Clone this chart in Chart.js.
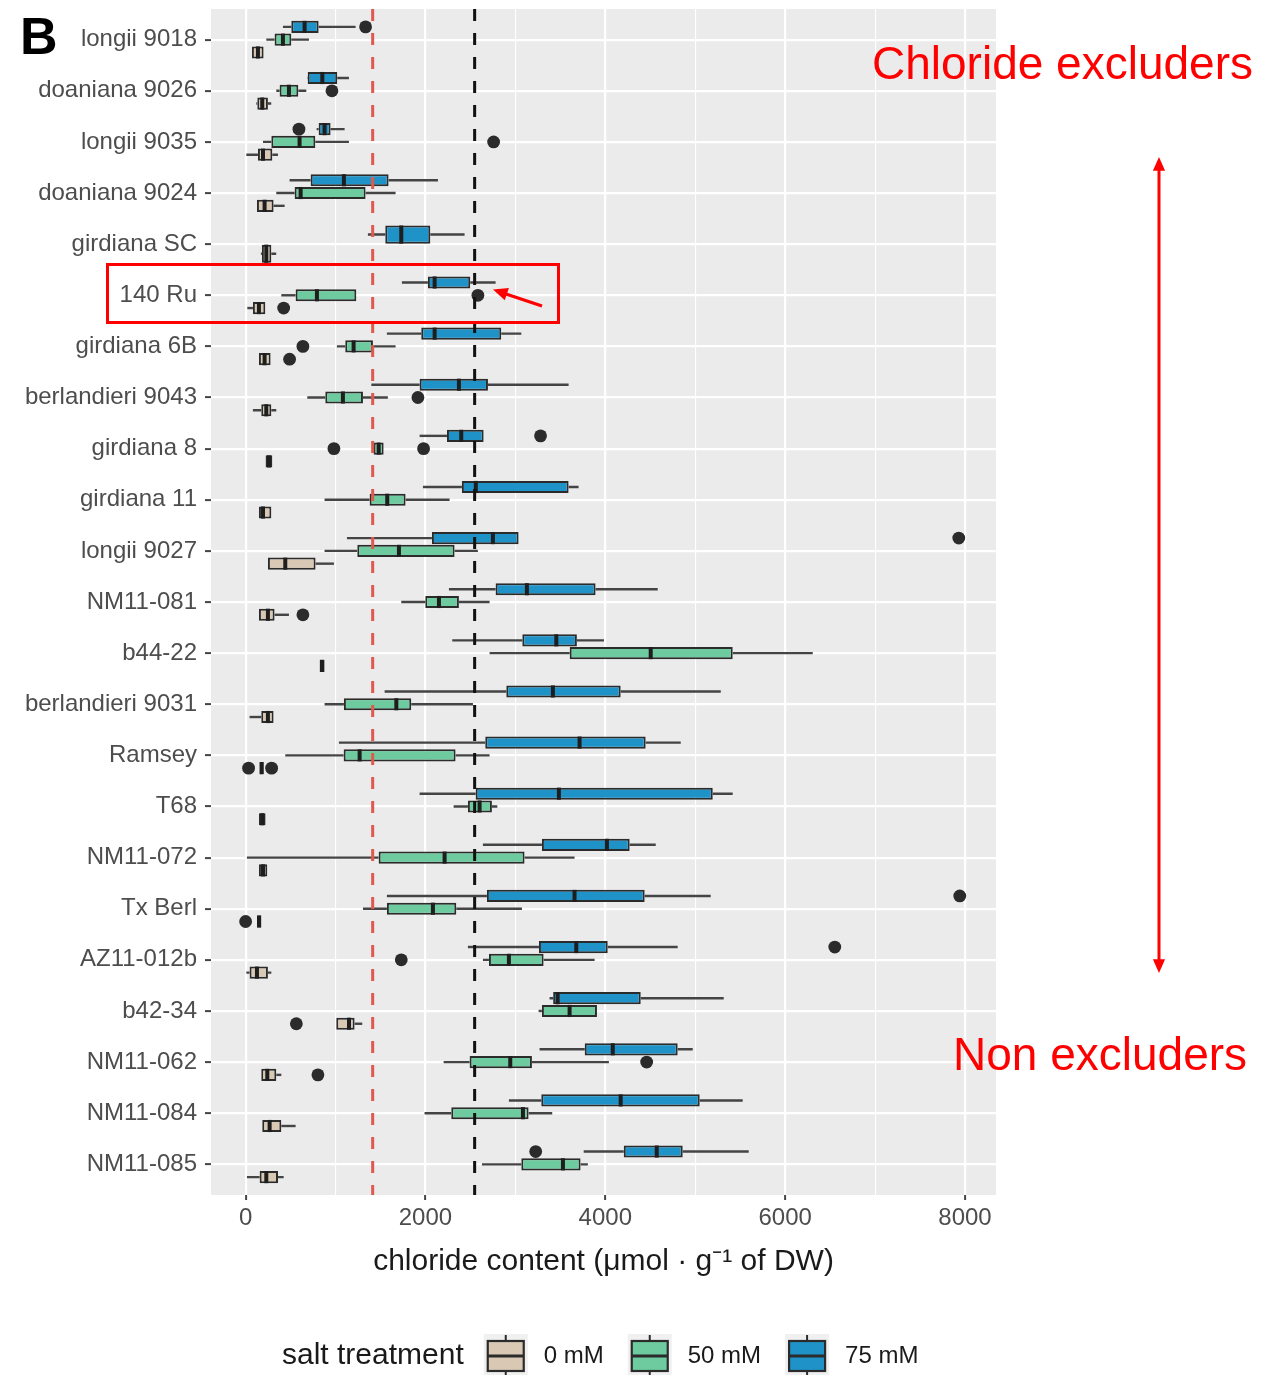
<!DOCTYPE html>
<html>
<head>
<meta charset="utf-8">
<script src="https://cdn.jsdelivr.net/npm/chart.js@4.4.1/dist/chart.umd.min.js"></script>
<style>
  html, body { margin: 0; padding: 0; background: #fff; }
  canvas { display: block; }
</style>
</head>
<body>
<canvas id="chart" width="1284" height="1375"></canvas>
<script>
// genotypes, top to bottom
const categories = ['longii 9018', 'doaniana 9026', 'longii 9035', 'doaniana 9024', 'girdiana SC',
  '140 Ru', 'girdiana 6B', 'berlandieri 9043', 'girdiana 8', 'girdiana 11', 'longii 9027',
  'NM11-081', 'b44-22', 'berlandieri 9031', 'Ramsey', 'T68', 'NM11-072', 'Tx Berl',
  'AZ11-012b', 'b42-34', 'NM11-062', 'NM11-084', 'NM11-085'];

// 0 mM : whisker low, Q1, median, Q3, whisker high, outliers
const min0 = [70, 119, 8, 126, 170, 19, 148, 81, 222, 148, 248, 148, 823, 44, 156, 148, 148, 126, 8, 1008, 174, 185, 15];
const q1_0 = [70, 130, 137, 126, 181, 81, 148, 174, 222, 148, 248, 148, 823, 174, 156, 148, 148, 126, 44, 1008, 174, 185, 156];
const med0 = [137, 185, 193, 211, 230, 148, 211, 230, 260, 193, 441, 248, 850, 248, 178, 185, 193, 150, 126, 1150, 241, 267, 230];
const q3_0 = [200, 248, 297, 311, 286, 219, 278, 286, 297, 286, 778, 322, 878, 311, 200, 222, 241, 174, 248, 1212, 341, 397, 360];
const max0 = [200, 285, 360, 434, 340, 219, 278, 341, 297, 286, 982, 482, 878, 311, 200, 222, 241, 174, 286, 1297, 397, 556, 423];
const out0 = [[], [], [], [], [], [423], [489], [], [], [], [], [637], [], [], [33, 289], [], [], [0], [], [564], [804], [], []];

// 50 mM
const min50 = [230, 341, 193, 341, null, 397, 1015, 686, 1423, 878, 878, 1731, 2713, 878, 441, 2313, 15, 1305, 2639, 3258, 2202, 1990, 2628];
const q1_50 = [322, 378, 286, 545, null, 556, 1108, 886, 1423, 1379, 1242, 1998, 3604, 1093, 1090, 2472, 1479, 1571, 2706, 3295, 2491, 2287, 3066];
const med50 = [415, 482, 600, 612, null, 793, 1201, 1082, 1480, 1575, 1705, 2150, 4505, 1676, 1268, 2602, 2213, 2083, 2928, 3603, 2943, 3084, 3529];
const q3_50 = [508, 586, 775, 1334, null, 1231, 1416, 1305, 1535, 1779, 2324, 2372, 5417, 1842, 2335, 2739, 3102, 2343, 3314, 3907, 3184, 3147, 3725];
const max50 = [704, 675, 1149, 1668, null, 1231, 1668, 1582, 1535, 2268, 2583, 2713, 6307, 2528, 2713, 2799, 3658, 3073, 3881, 3907, 4040, 3410, 3806];
const out50 = [[], [960], [2758], [], [], [2583], [637], [1916], [982, 1979], [], [], [], [], [], [], [], [], [], [1731], [], [4460], [], []];

// 75 mM
const min75 = [415, 686, 790, 489, 1360, 1738, 1571, 1398, 1935, 1972, 1127, 2261, 2298, 1546, 1038, 1935, 2639, 1571, 2472, 3380, 3269, 2928, 3760];
const q1_75 = [508, 690, 812, 723, 1553, 2027, 1953, 1935, 2239, 2405, 2072, 2780, 3077, 2899, 2665, 2558, 3295, 2683, 3262, 3420, 3771, 3288, 4205];
const med75 = [656, 853, 878, 1093, 1731, 2102, 2102, 2372, 2398, 2560, 2750, 3128, 3455, 3417, 3714, 3484, 4018, 3658, 3677, 3470, 4083, 4171, 4572];
const q3_75 = [812, 1019, 945, 1590, 2054, 2498, 2843, 2695, 2647, 3592, 3036, 3892, 3684, 4171, 4449, 5195, 4271, 4438, 4027, 4394, 4805, 5050, 4861];
const max75 = [1223, 1149, 1101, 2139, 2435, 2780, 3066, 3592, 2647, 3703, 3036, 4583, 3985, 5284, 4839, 5417, 4561, 5172, 4805, 5317, 4972, 5528, 5595];
const out75 = [[1334], [], [593], [], [], [], [], [], [3280], [], [7931], [], [], [], [], [], [], [7942], [6552], [], [], [], [3226]];

// dashed thresholds
const refValues = [1413, 2547];
const refColors = ['#dd5a4c', '#111111'];

// x grid every 1000, labels every 2000
const xGrid = [0, 1000, 2000, 3000, 4000, 5000, 6000, 7000, 8000];
const xTicks = [0, 2000, 4000, 6000, 8000];

const FONT = '"Liberation Sans", Arial, sans-serif';
const PANEL = '#ebebeb';
const EDGE = '#2b2b2b';

// top to bottom inside each genotype
const groups = [
  { label: '75 mM', color: '#1f93c8', min: min75, q1: q1_75, med: med75, q3: q3_75, max: max75, out: out75 },
  { label: '50 mM', color: '#6dcb9f', min: min50, q1: q1_50, med: med50, q3: q3_50, max: max50, out: out50 },
  { label: '0 mM', color: '#d8c8b4', min: min0, q1: q1_0, med: med0, q3: q3_0, max: max0, out: out0 }
];

function arrowHead(ctx, x, y, angle, size) {
  ctx.beginPath();
  ctx.moveTo(x, y);
  ctx.lineTo(x - size * Math.cos(angle - 0.42), y - size * Math.sin(angle - 0.42));
  ctx.lineTo(x - size * Math.cos(angle + 0.42), y - size * Math.sin(angle + 0.42));
  ctx.closePath();
  ctx.fill();
}

const boxplotPlugin = {
  id: 'boxplotExtras',
  beforeDraw(chart) {
    const { ctx, chartArea: a } = chart;
    ctx.save();
    ctx.fillStyle = '#ffffff';
    ctx.fillRect(0, 0, chart.width, chart.height);
    ctx.fillStyle = PANEL;
    ctx.fillRect(a.left, a.top, a.right - a.left, a.bottom - a.top);
    ctx.restore();
  },
  beforeDatasetsDraw(chart) {
    // whiskers under the boxes
    const ctx = chart.ctx;
    const xs = chart.scales.x;
    ctx.save();
    ctx.strokeStyle = '#444';
    ctx.lineWidth = 2.4;
    groups.forEach((g, d) => {
      chart.getDatasetMeta(d).data.forEach((el, i) => {
        if (g.q1[i] == null) return;
        ctx.beginPath();
        ctx.moveTo(xs.getPixelForValue(g.min[i]), el.y);
        ctx.lineTo(xs.getPixelForValue(g.q1[i]), el.y);
        ctx.moveTo(xs.getPixelForValue(g.q3[i]), el.y);
        ctx.lineTo(xs.getPixelForValue(g.max[i]), el.y);
        ctx.stroke();
      });
    });
    ctx.restore();
  },
  afterDatasetsDraw(chart) {
    const ctx = chart.ctx;
    const xs = chart.scales.x;
    const a = chart.chartArea;
    ctx.save();
    groups.forEach((g, d) => {
      chart.getDatasetMeta(d).data.forEach((el, i) => {
        if (g.q1[i] == null) return;
        // median
        const mx = xs.getPixelForValue(g.med[i]);
        ctx.strokeStyle = '#1e1e1e';
        ctx.lineWidth = 4;
        ctx.beginPath();
        ctx.moveTo(mx, el.y - el.height / 2);
        ctx.lineTo(mx, el.y + el.height / 2);
        ctx.stroke();
        // outliers
        ctx.fillStyle = '#2b2b2b';
        g.out[i].forEach(v => {
          ctx.beginPath();
          ctx.arc(xs.getPixelForValue(v), el.y, 6.4, 0, Math.PI * 2);
          ctx.fill();
        });
      });
    });
    // dashed threshold lines
    ctx.lineWidth = 3;
    ctx.setLineDash([12, 12]);
    refValues.forEach((v, k) => {
      const px = xs.getPixelForValue(v);
      ctx.strokeStyle = refColors[k];
      ctx.beginPath();
      ctx.moveTo(px, a.top);
      ctx.lineTo(px, a.bottom);
      ctx.stroke();
    });
    ctx.restore();
  },
  afterDraw(chart) {
    const ctx = chart.ctx;
    ctx.save();

    // legend
    const ly = 1356;
    ctx.textBaseline = 'middle';
    ctx.textAlign = 'left';
    ctx.fillStyle = '#1a1a1a';
    ctx.font = '30px ' + FONT;
    let lx = 282;
    ctx.fillText('salt treatment', lx, ly);
    lx += ctx.measureText('salt treatment').width + 20;
    ctx.font = '24px ' + FONT;
    groups.slice().reverse().forEach(g => {
      const k = 44;
      ctx.fillStyle = '#f0f0f0';
      ctx.fillRect(lx, ly - k / 2, k, k);
      ctx.strokeStyle = EDGE;
      ctx.lineWidth = 2;
      ctx.beginPath();
      ctx.moveTo(lx + k / 2, ly - k / 2 + 1);
      ctx.lineTo(lx + k / 2, ly + k / 2 - 1);
      ctx.stroke();
      ctx.fillStyle = g.color;
      ctx.fillRect(lx + 4, ly - 15, k - 8, 30);
      ctx.lineWidth = 2.2;
      ctx.strokeRect(lx + 4, ly - 15, k - 8, 30);
      ctx.lineWidth = 3;
      ctx.beginPath();
      ctx.moveTo(lx + 4, ly);
      ctx.lineTo(lx + k - 4, ly);
      ctx.stroke();
      ctx.fillStyle = '#1a1a1a';
      ctx.fillText(g.label, lx + k + 16, ly);
      lx += k + 16 + ctx.measureText(g.label).width + 24;
    });

    // panel letter
    ctx.fillStyle = '#000';
    ctx.textBaseline = 'alphabetic';
    ctx.font = 'bold 52px ' + FONT;
    ctx.fillText('B', 20, 54);

    // red annotations
    const red = '#ff0000';
    ctx.fillStyle = red;
    ctx.strokeStyle = red;
    ctx.font = '46px ' + FONT;
    ctx.fillText('Chloride excluders', 872, 79);
    ctx.fillText('Non excluders', 953, 1070);

    ctx.lineWidth = 3;
    ctx.strokeRect(107.5, 264.5, 451, 58);

    // small arrow toward the 140 Ru point
    ctx.beginPath();
    ctx.moveTo(542, 306);
    ctx.lineTo(503, 293);
    ctx.stroke();
    arrowHead(ctx, 493, 289.5, Math.atan2(289.5 - 306, 493 - 542), 16);

    // double arrow on the right
    ctx.beginPath();
    ctx.moveTo(1159, 170);
    ctx.lineTo(1159, 960);
    ctx.stroke();
    arrowHead(ctx, 1159, 157, -Math.PI / 2, 15);
    arrowHead(ctx, 1159, 973, Math.PI / 2, 15);

    ctx.restore();
  }
};

new Chart(document.getElementById('chart'), {
  type: 'bar',
  data: {
    datasets: groups.map(g => ({
      label: g.label,
      data: categories.map((c, i) => ({ y: i, x: g.q1[i] == null ? null : [g.q1[i], g.q3[i]] })),
      backgroundColor: g.color,
      borderColor: EDGE,
      borderWidth: 2,
      borderSkipped: false,
      barPercentage: 0.95,
      categoryPercentage: 0.75,
      skipNull: true
    }))
  },
  options: {
    indexAxis: 'y',
    responsive: false,
    animation: false,
    events: [],
    layout: { padding: { left: 0, right: 288, top: 9, bottom: 95 } },
    plugins: { legend: { display: false }, tooltip: { enabled: false } },
    scales: {
      x: {
        type: 'linear',
        min: -385,
        max: 8345,
        border: { display: false },
        grid: {
          color: '#ffffff',
          lineWidth: c => (c.tick && c.tick.value % 2000 === 0 ? 2.2 : 1.1),
          tickColor: c => (c.tick && xTicks.includes(c.tick.value) ? '#444' : 'rgba(0,0,0,0)'),
          tickLength: 5,
          tickWidth: 2
        },
        afterBuildTicks: s => { s.ticks = xGrid.map(v => ({ value: v })); },
        ticks: {
          autoSkip: false,
          maxRotation: 0,
          padding: 4,
          color: '#4d4d4d',
          font: { family: FONT, size: 24 },
          callback: v => (xTicks.includes(v) ? String(v) : '')
        },
        title: {
          display: true,
          text: 'chloride content (\u03bcmol \u00b7 g\u207b\u00b9 of DW)',
          color: '#1a1a1a',
          font: { family: FONT, size: 30 },
          padding: { top: 0, bottom: 0 }
        },
        afterFit: s => { s.height = 85; }
      },
      y: {
        type: 'linear',
        reverse: true,
        min: -0.6,
        max: 22.6,
        offset: false,
        border: { display: false },
        grid: {
          offset: false,
          color: '#ffffff',
          lineWidth: 2.2,
          tickColor: '#444',
          tickLength: 6,
          tickWidth: 2
        },
        afterBuildTicks: s => { s.ticks = categories.map((c, i) => ({ value: i })); },
        ticks: {
          autoSkip: false,
          padding: 8,
          color: '#4d4d4d',
          font: { family: FONT, size: 24 },
          callback: v => categories[v]
        },
        afterFit: s => { s.width = 211; s.paddingTop = 0; s.paddingBottom = 0; }
      }
    }
  },
  plugins: [boxplotPlugin]
});
</script>
</body>
</html>
